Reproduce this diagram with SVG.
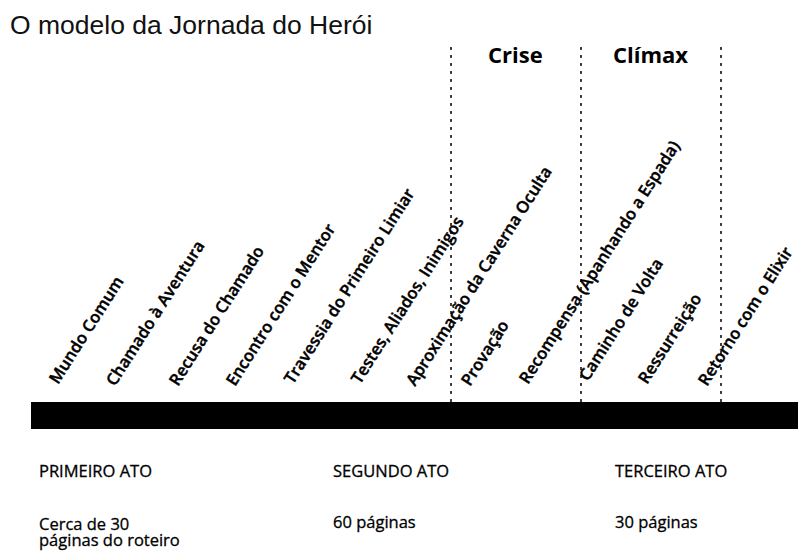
<svg xmlns="http://www.w3.org/2000/svg" width="798" height="555" viewBox="0 0 798 555">
<style>
.title{font-family:"Liberation Sans",Arial,sans-serif;font-size:26.5px;fill:#111}
.head{font-family:"Open Sans","DejaVu Sans",sans-serif;font-size:22px;font-weight:700;fill:#000}
.stage{font-family:"Open Sans","DejaVu Sans",sans-serif;font-size:16.5px;font-weight:600;fill:#000;stroke:#000;stroke-width:0.4}
.act{font-family:"Open Sans","DejaVu Sans",sans-serif;font-size:16.5px;font-weight:400;fill:#000;stroke:#000;stroke-width:0.3}
.div{stroke:#000;stroke-width:1.5;stroke-dasharray:3 5;fill:none}
</style>
<rect width="798" height="555" fill="#fff"/>
<text class="title" x="10" y="34">O modelo da Jornada do Herói</text>
<g id="connectors">
<line class="div" x1="451" y1="47" x2="451" y2="402"/>
<line class="div" x1="581" y1="47" x2="581" y2="402"/>
<line class="div" x1="721" y1="47" x2="721" y2="402"/>
</g>
<g id="crise"><text class="head" x="488" y="63">Crise</text></g>
<g id="climax"><text class="head" x="613" y="63">Clímax</text></g>
<g id="timeline"><rect x="31" y="402" width="767" height="27" fill="#000"/></g>
<g id="s1"><text class="stage" transform="translate(58,385) rotate(-57.5)">Mundo Comum</text></g>
<g id="s2"><text class="stage" transform="translate(115,387) rotate(-57.5)">Chamado à Aventura</text></g>
<g id="s3"><text class="stage" transform="translate(178,387) rotate(-57.5)">Recusa do Chamado</text></g>
<g id="s4"><text class="stage" transform="translate(235,387) rotate(-57.5)">Encontro com o Mentor</text></g>
<g id="s5"><text class="stage" transform="translate(293,385) rotate(-57.5)">Travessia do Primeiro Limiar</text></g>
<g id="s6"><text class="stage" transform="translate(360,385) rotate(-57.5)">Testes, Aliados, Inimigos</text></g>
<g id="s7"><text class="stage" transform="translate(415,387) rotate(-57.5)">Aproximação da Caverna Oculta</text></g>
<g id="s8"><text class="stage" transform="translate(470,387) rotate(-57.5)">Provação</text></g>
<g id="s9"><text class="stage" transform="translate(528,385) rotate(-57.5)">Recompensa (Apanhando a Espada)</text></g>
<g id="s10"><text class="stage" transform="translate(588,382) rotate(-57.5)">Caminho de Volta</text></g>
<g id="s11"><text class="stage" transform="translate(647,385) rotate(-57.5)">Ressurreição</text></g>
<g id="s12"><text class="stage" transform="translate(707,387) rotate(-57.5)">Retorno com o Elixir</text></g>
<g id="act1">
<text class="act" x="39" y="477">PRIMEIRO ATO</text>
<text class="act" x="39" y="530">Cerca de 30<tspan x="39" y="546">páginas do roteiro</tspan></text>
</g>
<g id="act2">
<text class="act" x="333" y="477">SEGUNDO ATO</text>
<text class="act" x="333" y="528">60 páginas</text>
</g>
<g id="act3">
<text class="act" x="615" y="477">TERCEIRO ATO</text>
<text class="act" x="615" y="528">30 páginas</text>
</g>
</svg>
